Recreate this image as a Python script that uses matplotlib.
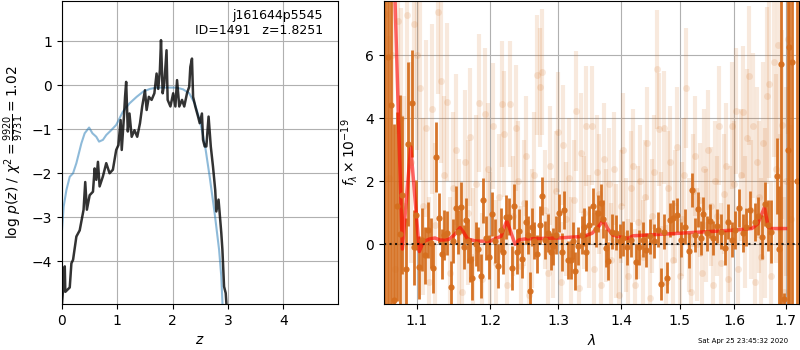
import numpy as np
import matplotlib
matplotlib.use('Agg')
import matplotlib.pyplot as plt
from matplotlib.ticker import NullLocator, FixedLocator, FixedFormatter

# ---- left panel: p(z) and chi2 curves ----
z_pz = [0.00, 0.05, 0.06, 0.14, 0.17, 0.20, 0.26, 0.32, 0.39, 0.42, 0.45, 0.50, 0.56, 0.59, 0.62,
        0.65, 0.68, 0.74, 0.80, 0.86, 0.92, 0.98, 1.02, 1.06, 1.08, 1.12, 1.14, 1.16, 1.19, 1.22,
        1.26, 1.31, 1.36, 1.41, 1.45, 1.50, 1.53, 1.57, 1.62, 1.67, 1.71, 1.74, 1.77, 1.79, 1.82,
        1.85, 1.89, 1.91, 1.96, 2.01, 2.05, 2.08, 2.12, 2.17, 2.21, 2.26, 2.30, 2.32, 2.35, 2.37,
        2.41, 2.46, 2.49, 2.53, 2.55, 2.58, 2.61, 2.65, 2.69, 2.73, 2.77, 2.79, 2.83, 2.85, 2.88,
        2.90, 2.93, 2.96, 3.00]
logpz = [-4.97, -4.12, -4.7, -4.6, -4.05, -3.97, -3.44, -3.3, -2.83, -2.2, -2.83, -2.5, -2.42, -1.89, -2.15,
         -1.74, -2.3, -2.07, -1.77, -2.0, -1.92, -1.47, -1.36, -0.79, -1.47, -0.71, -0.26, 0.08, -1.05, -0.64,
         -1.17, -1.02, -1.17, -0.86, -0.48, -0.11, -0.56, -0.26, -0.33, -0.18, 0.27, -0.08, 0.35, 1.03, -0.18,
         0.05, 0.8, -0.33, -0.48, -0.18, -0.48, 0.12, -0.48, -0.33, -0.48, -0.18, -0.03, 0.42, 0.61, -0.26,
         -0.48, -0.71, -0.86, -0.64, -1.24, -1.39, -1.39, -0.71, -1.39, -1.85, -2.38, -2.87, -2.6, -2.9, -3.36,
         -3.74, -4.58, -4.73, -5.5]

z_chi = [0.0, 0.03, 0.08, 0.14, 0.20, 0.26, 0.35, 0.41, 0.49, 0.55, 0.62, 0.67, 0.74, 0.80, 0.89,
         0.98, 1.10, 1.22, 1.35, 1.47, 1.59, 1.71, 1.89, 2.07, 2.19, 2.30, 2.40, 2.49, 2.58, 2.67,
         2.76, 2.84, 2.88, 2.92]
chi_scaled = [-3.3, -2.76, -2.38, -2.08, -2.0, -1.77, -1.32, -1.09, -0.96, -1.09, -1.17, -1.28, -1.24, -1.13, -1.02,
              -0.9, -0.6, -0.41, -0.26, -0.14, -0.08, -0.05, -0.05, -0.05, -0.09, -0.18, -0.41, -0.79, -1.32, -2.08,
              -2.91, -3.74, -4.35, -5.5]

# ---- right panel: binned spectrum ----
wave_bin = [1.0596, 1.0637, 1.0675, 1.0709, 1.0750, 1.0785, 1.0815, 1.0858, 1.0888, 1.0935,
            1.0960, 1.0995, 1.1030, 1.1073, 1.1110, 1.1150, 1.1185, 1.1218, 1.1258, 1.1294,
            1.1330, 1.1360, 1.1405, 1.1451, 1.1485, 1.1518, 1.1555, 1.1595, 1.1625, 1.1655,
            1.1690, 1.1715, 1.1746, 1.1790, 1.1830, 1.1864, 1.1900, 1.1940, 1.1980, 1.2019,
            1.2060, 1.2104, 1.2145, 1.2184, 1.2219, 1.2267, 1.2306, 1.2344, 1.2388, 1.2417,
            1.2461, 1.2511, 1.2549, 1.2575, 1.2610, 1.2639, 1.2680, 1.2720, 1.2759, 1.2800,
            1.2850, 1.2886, 1.2926, 1.2970, 1.3013, 1.3055, 1.3095, 1.3148, 1.3190, 1.3225,
            1.3262, 1.3310, 1.3367, 1.3393, 1.3435, 1.3483, 1.3546, 1.3585, 1.3621, 1.3674,
            1.3711, 1.3750, 1.3793, 1.3848, 1.3914, 1.3975, 1.4039, 1.4100, 1.4170, 1.4246,
            1.4300, 1.4360, 1.4415, 1.4480, 1.4550, 1.4621, 1.4684, 1.4736, 1.4788, 1.4836,
            1.4890, 1.4953, 1.5020, 1.5100, 1.5160, 1.5220, 1.5280, 1.5339, 1.5390, 1.5430,
            1.5490, 1.5552, 1.5610, 1.5676, 1.5750, 1.5830, 1.5892, 1.5950, 1.6020, 1.6100,
            1.6160, 1.6230, 1.6305, 1.6401, 1.6450, 1.6543, 1.6596, 1.6650, 1.6720, 1.6827,
            1.6872, 1.6918, 1.6972, 1.7050, 1.7079, 1.7139, 1.7235]
flux_bin = [9.0, 5.94, 4.41, -1.77, 1.2, 0.33, 1.57, -0.78, 3.18, 4.48,
            -0.10, 0.93, -0.73, 0.14, -0.35, 0.45, 0.05, -0.76, 2.77, 0.83,
            -0.30, 0.30, 0.35, -1.34, 0.10, 1.14, 0.40, 1.17, -0.10, 0.77,
            0.10, -0.50, -1.08, 0.0, -0.16, -1.00, 1.39, 0.20, -0.40, 0.96,
            0.10, -0.69, 0.45, -0.23, 0.88, 0.88, -0.76, 1.20, -0.23, 0.43,
            -0.48, 0.72, 0.30, -1.48, 0.55, 0.12, -0.30, 0.60, 1.53, 0.14,
            0.37, -0.23, -0.07, 0.30, 1.00, -0.25, 1.09, -0.50, -0.50, 0.12,
            -0.84, -0.05, 0.30, 0.56, -0.26, 0.61, 1.20, 0.50, 0.98, 1.30,
            0.79, -0.13, -0.52, 0.40, 0.37, 0.10, 0.19, -0.10, 0.15, -0.55,
            -0.10, 0.15, -0.18, 0.25, 0.10, 0.46, -1.26, 0.40, -1.06, 0.77,
            0.85, 0.93, 0.15, 0.56, -0.20, 1.72, 0.30, 1.11, 0.20, 0.96,
            0.35, 0.74, 0.20, 0.58, 0.40, -0.11, 0.72, 0.15, 0.45, 1.14,
            0.35, 0.55, 1.09, 0.72, 0.90, 0.22, 1.27, 0.60, 0.40, 2.17,
            -0.16, 5.71, -1.75, 3.0, 6.25, 5.78, 2.0]
err_bin = [12, 10, 8, 5.6, 3.0, 4.4, 2.5, 1.6, 2.6, 1.7,
           1.2, 1.1, 1.0, 1.0, 0.9, 0.9, 0.8, 0.8, 1.1, 0.8,
           0.8, 0.8, 0.7, 0.8, 0.7, 0.7, 0.7, 0.8, 0.7, 0.7,
           0.7, 0.7, 0.7, 0.7, 0.7, 0.7, 0.7, 0.7, 0.7, 0.7,
           0.7, 0.7, 0.7, 0.7, 0.7, 0.6, 0.7, 0.7, 0.7, 0.7,
           0.6, 0.7, 0.6, 0.6, 0.6, 0.6, 0.6, 0.6, 0.6, 0.6,
           0.6, 0.6, 0.6, 0.6, 0.6, 0.6, 0.6, 0.6, 0.6, 0.6,
           0.6, 0.6, 0.6, 0.6, 0.6, 0.6, 0.6, 0.6, 0.6, 0.6,
           0.6, 0.6, 0.6, 0.55, 0.55, 0.55, 0.55, 0.55, 0.55, 0.55,
           0.55, 0.55, 0.55, 0.55, 0.55, 0.55, 0.5, 0.55, 0.5, 0.55,
           0.55, 0.55, 0.55, 0.55, 0.55, 0.55, 0.55, 0.55, 0.55, 0.55,
           0.55, 0.55, 0.55, 0.55, 0.55, 0.55, 0.55, 0.55, 0.6, 0.6,
           0.6, 0.6, 0.6, 0.6, 0.6, 0.7, 0.7, 0.8, 1.0, 1.2,
           2.0, 10, 0.2, 10, 10, 10, 12]

# ---- right panel: unbinned spectrum (faint) ----
wave_raw = [1.060, 1.064, 1.068, 1.072, 1.076, 1.080, 1.084, 1.088, 1.092, 1.096,
            1.100, 1.104, 1.108, 1.112, 1.116, 1.120, 1.124, 1.128, 1.132, 1.136,
            1.140, 1.144, 1.148, 1.152, 1.156, 1.160, 1.164, 1.168, 1.172, 1.176,
            1.180, 1.184, 1.188, 1.192, 1.196, 1.200, 1.204, 1.208, 1.212, 1.216,
            1.220, 1.224, 1.228, 1.232, 1.236, 1.240, 1.244, 1.248, 1.252, 1.256,
            1.260, 1.264, 1.268, 1.272, 1.276, 1.280, 1.284, 1.288, 1.292, 1.296,
            1.300, 1.304, 1.308, 1.312, 1.316, 1.320, 1.324, 1.328, 1.332, 1.336,
            1.340, 1.344, 1.348, 1.352, 1.356, 1.360, 1.364, 1.368, 1.372, 1.376,
            1.380, 1.384, 1.388, 1.392, 1.396, 1.400, 1.404, 1.408, 1.412, 1.416,
            1.420, 1.424, 1.428, 1.432, 1.436, 1.440, 1.444, 1.448, 1.452, 1.456,
            1.460, 1.464, 1.468, 1.472, 1.476, 1.480, 1.484, 1.488, 1.492, 1.496,
            1.500, 1.504, 1.508, 1.512, 1.516, 1.520, 1.524, 1.528, 1.532, 1.536,
            1.540, 1.544, 1.548, 1.552, 1.556, 1.560, 1.564, 1.568, 1.572, 1.576,
            1.580, 1.584, 1.588, 1.592, 1.596, 1.600, 1.604, 1.608, 1.612, 1.616,
            1.620, 1.624, 1.628, 1.632, 1.636, 1.640, 1.644, 1.648, 1.652, 1.656,
            1.660, 1.664, 1.668, 1.672, 1.676, 1.680, 1.684, 1.688, 1.692, 1.696,
            1.700, 1.704, 1.710]
flux_raw = [7.3, 2.1, 6.0, -0.8, 7.1, 4.0, 1.2, 7.28, 2.6, 6.99,
            6.0, 4.95, 1.2, 3.68, -1.2, 4.3, 0.6, 7.36, 5.18, 2.2,
            4.51, -0.9, 1.8, 3.0, 0.4, -1.5, 2.6, 1.0, 3.4, -0.4,
            1.9, 4.48, -1.1, 4.12, 2.4, 0.2, 3.74, -0.6, 1.5, 4.45,
            3.5, -1.3, 4.44, 0.9, 3.7, 2.0, -0.7, 1.3, 2.8, -1.6,
            0.5, 2.2, 5.37, 4.98, 5.46, 1.1, -0.9, 2.5, 0.2, 1.7,
            3.56, -1.2, 3.14, 0.8, 2.1, -0.3, 1.4, 4.23, -1.4, 2.9,
            1.0, 3.75, 0.4, 3.77, -0.8, 2.3, 1.6, -1.3, 2.7, 0.6,
            1.9, -0.5, 2.4, 0.1, -1.6, 1.2, 3.0, 0.3, -1.0, 1.8,
            2.5, -1.3, 0.7, 2.0, -0.4, 1.5, 3.2, -1.7, 0.9, 2.3,
            5.55, 3.65, 0.5, 3.7, -1.2, 1.8, 2.6, -0.5, 1.2, 3.1,
            -1.0, 0.8, 2.2, 4.96, 0.3, -1.5, 1.7, 2.8, 0.0, 1.4,
            -0.9, 2.4, 0.6, 3.0, 1.2, -1.3, 2.0, 0.9, 3.77, -0.6,
            1.6, 2.5, -1.1, 0.5, 3.77, 1.9, 4.23, -0.8, 2.2, 4.19,
            0.7, 3.36, 5.35, 1.1, 3.77, -1.2, 2.6, 1.5, -0.4, 3.2,
            1.0, 4.72, 5.1, -1.0, 5.78, 2.4, 6.31, 0.5, 3.8, -1.5,
            2.0, 6.5, 0.8]
err_raw = [4.0, 4.5, 4.0, 3.8, 3.6, 3.5, 3.5, 3.3, 3.2, 3.0,
           3.0, 2.9, 2.8, 2.8, 2.7, 2.7, 2.6, 2.6, 2.6, 2.5,
           2.5, 2.4, 2.4, 2.4, 2.3, 2.3, 2.3, 2.3, 2.2, 2.2,
           2.2, 2.2, 2.1, 2.1, 2.1, 2.1, 2.0, 2.0, 2.0, 2.0,
           2.0, 2.0, 2.0, 1.9, 2.0, 1.9, 1.9, 2.0, 1.9, 1.9,
           1.9, 2.0, 1.9, 1.9, 2.0, 1.9, 1.9, 1.9, 1.9, 1.9,
           1.9, 1.9, 1.9, 1.8, 1.9, 1.8, 1.9, 1.9, 1.8, 1.9,
           1.8, 1.9, 1.8, 1.9, 1.8, 1.8, 1.9, 1.8, 1.8, 1.8,
           1.8, 1.8, 1.8, 1.8, 1.8, 1.8, 1.8, 1.8, 1.8, 1.8,
           1.8, 1.8, 1.8, 1.8, 1.8, 1.8, 1.8, 1.8, 1.8, 1.8,
           1.9, 1.8, 1.8, 1.8, 1.8, 1.8, 1.8, 1.8, 1.8, 1.9,
           1.8, 1.8, 1.8, 1.9, 1.8, 1.8, 1.8, 1.9, 1.8, 1.8,
           1.8, 1.9, 1.8, 1.9, 1.9, 1.8, 1.9, 1.9, 1.9, 1.9,
           1.9, 2.0, 1.9, 2.0, 2.0, 2.0, 2.0, 2.0, 2.1, 2.1,
           2.1, 2.2, 2.2, 2.2, 2.3, 2.3, 2.4, 2.4, 2.5, 2.6,
           2.7, 2.8, 3.0, 3.0, 3.0, 3.0, 3.0, 3.0, 3.0, 3.0,
           3.0, 3.0, 3.0]

# ---- right panel: best-fit model ----
wave_model = [1.066, 1.0722, 1.0815, 1.0922, 1.1034, 1.1085, 1.117, 1.124, 1.131, 1.142,
              1.150, 1.1577, 1.162, 1.168, 1.180, 1.200, 1.207, 1.215, 1.219, 1.2233,
              1.2354, 1.241, 1.250, 1.300, 1.339, 1.353, 1.363, 1.3711, 1.378, 1.386,
              1.400, 1.412, 1.420, 1.450, 1.500, 1.550, 1.600, 1.6337, 1.645, 1.6583,
              1.6657, 1.672, 1.700]
flux_model = [11.0, 7.7, -0.15, 3.1, -0.23, 0.08, 0.17, 0.2, 0.13, 0.15,
              0.3, 0.53, 0.4, 0.17, 0.1, 0.1, 0.18, 0.25, 0.5, 0.75,
              0.0, 0.14, 0.17, 0.2, 0.25, 0.35, 0.55, 0.77, 0.5, 0.3,
              0.22, 0.19, 0.27, 0.3, 0.35, 0.4, 0.45, 0.5, 0.65, 1.17,
              0.54, 0.5, 0.5]

spec_color = '#d56e1e'

fig = plt.figure(figsize=(8, 3.5), dpi=100)
ax1 = fig.add_axes([0.0775, 0.131, 0.345, 0.866])
ax2 = fig.add_axes([0.48, 0.131, 0.519, 0.866])

# p(z) panel
ax1.plot(z_chi, chi_scaled, color='tab:blue', alpha=0.5, lw=1.5)
ax1.plot(z_pz, logpz, color='k', alpha=0.8, lw=1.8)
ax1.set_xlim(0, 4.99)
ax1.set_ylim(-4.98, 1.92)
ax1.set_xticks([0, 1, 2, 3, 4])
ax1.set_yticks([-4, -3, -2, -1, 0, 1])
ax1.grid(True)
ax1.set_xlabel(r'$z$')
ax1.set_ylabel(r'$\log\,p(z)$ / $\chi^2=\frac{9920}{9731}=1.02$')
ax1.text(0.945, 0.975, 'j161644p5545\nID=1491   z=1.8251', ha='right', va='top',
         transform=ax1.transAxes, fontsize=9)

# spectrum panel
ax2.errorbar(wave_raw, flux_raw, yerr=err_raw, fmt='o', color=spec_color, alpha=0.15,
             ms=5, lw=3, mec='none')
ax2.errorbar(wave_bin, flux_bin, yerr=err_bin, fmt='o', color=spec_color, alpha=0.95,
             ms=4.5, lw=2, mec='none')
ax2.plot(wave_model, flux_model, color='r', alpha=0.6, lw=2.5)
ax2.axhline(0, color='k', linestyle=':', lw=1.5, alpha=0.85)

ax2.set_xscale('log')
ax2.set_xlim(1.0583, 1.7276)
ax2.set_ylim(-1.9, 7.72)
ticks = [1.1, 1.2, 1.3, 1.4, 1.5, 1.6, 1.7]
ax2.xaxis.set_major_locator(FixedLocator(ticks))
ax2.xaxis.set_major_formatter(FixedFormatter([str(t) for t in ticks]))
ax2.xaxis.set_minor_locator(NullLocator())
ax2.set_yticks([0, 2, 4, 6])
ax2.grid(True)
ax2.set_xlabel(r'$\lambda$')
ax2.set_ylabel(r'$f_\lambda\times10^{-19}$')

fig.text(0.985, 0.018, 'Sat Apr 25 23:45:32 2020', ha='right', va='bottom', fontsize=5)

fig.savefig('out.png', dpi=100)
